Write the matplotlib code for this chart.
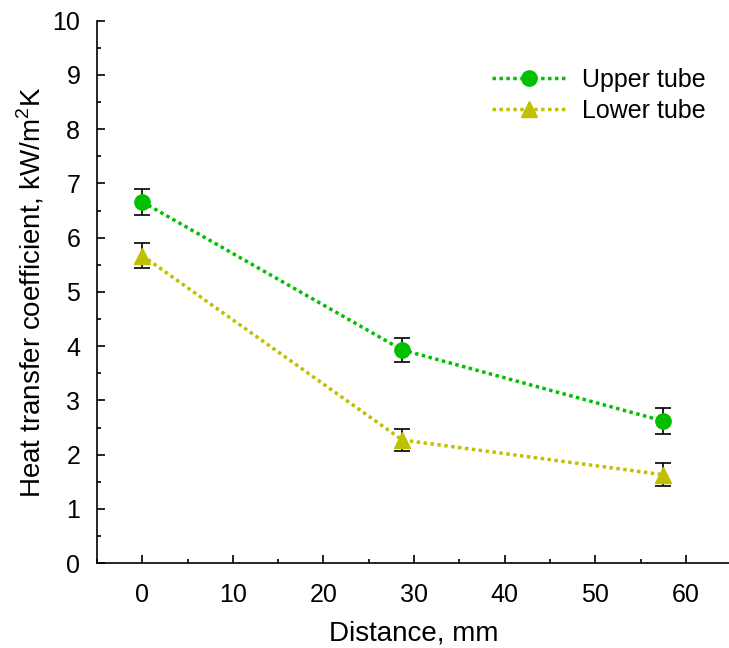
import numpy as np
import matplotlib.pyplot as plt
from matplotlib.ticker import MultipleLocator

plt.rcParams['font.family'] = ['Liberation Sans', 'DejaVu Sans']

distance = [0, 28.7, 57.5]
upper = [6.66, 3.93, 2.62]
upper_err = [0.24, 0.22, 0.24]
lower = [5.67, 2.27, 1.63]
lower_err = [0.23, 0.21, 0.21]

fig = plt.figure(figsize=(7.29, 6.48), dpi=100)
ax = fig.add_axes([0.133, 0.131, 0.87, 0.837])

ax.errorbar(distance, upper, yerr=upper_err, color='#00c000', ecolor='black',
            elinewidth=1.2, capsize=6, capthick=1.2, linestyle=(0, (1, 1)),
            linewidth=2.5, marker='o', markersize=11, label='Upper tube')
ax.errorbar(distance, lower, yerr=lower_err, color='#c0c000', ecolor='black',
            elinewidth=1.2, capsize=6, capthick=1.2, linestyle=(0, (1, 1)),
            linewidth=2.5, marker='^', markersize=11, label='Lower tube')

ax.set_xlim(-5, 65)
ax.set_ylim(0, 10)
ax.xaxis.set_major_locator(MultipleLocator(10))
ax.xaxis.set_minor_locator(MultipleLocator(5))
ax.yaxis.set_major_locator(MultipleLocator(1))
ax.yaxis.set_minor_locator(MultipleLocator(0.5))
ax.tick_params(which='both', direction='in', labelsize=18, width=1.2)
ax.tick_params(which='major', length=6)
ax.tick_params(axis='y', which='major', pad=12)
ax.tick_params(axis='x', which='major', pad=14)
ax.tick_params(which='minor', length=3)
for s in ['top', 'right']:
    ax.spines[s].set_visible(False)
for s in ['left', 'bottom']:
    ax.spines[s].set_linewidth(1.2)

ax.set_xlabel('Distance, mm', fontsize=20, labelpad=10)
ax.set_ylabel(r'Heat transfer coefficient, kW/m$^{\mathregular{2}}$K', fontsize=20, labelpad=4)

handles, labels = ax.get_legend_handles_labels()
handles = [h[0] for h in handles]
ax.legend(handles, labels, loc='upper right', bbox_to_anchor=(0.995, 0.955),
          frameon=False, fontsize=18, handlelength=3.0, handletextpad=0.6,
          labelspacing=0.28)

fig.savefig('out.png', dpi=100)
